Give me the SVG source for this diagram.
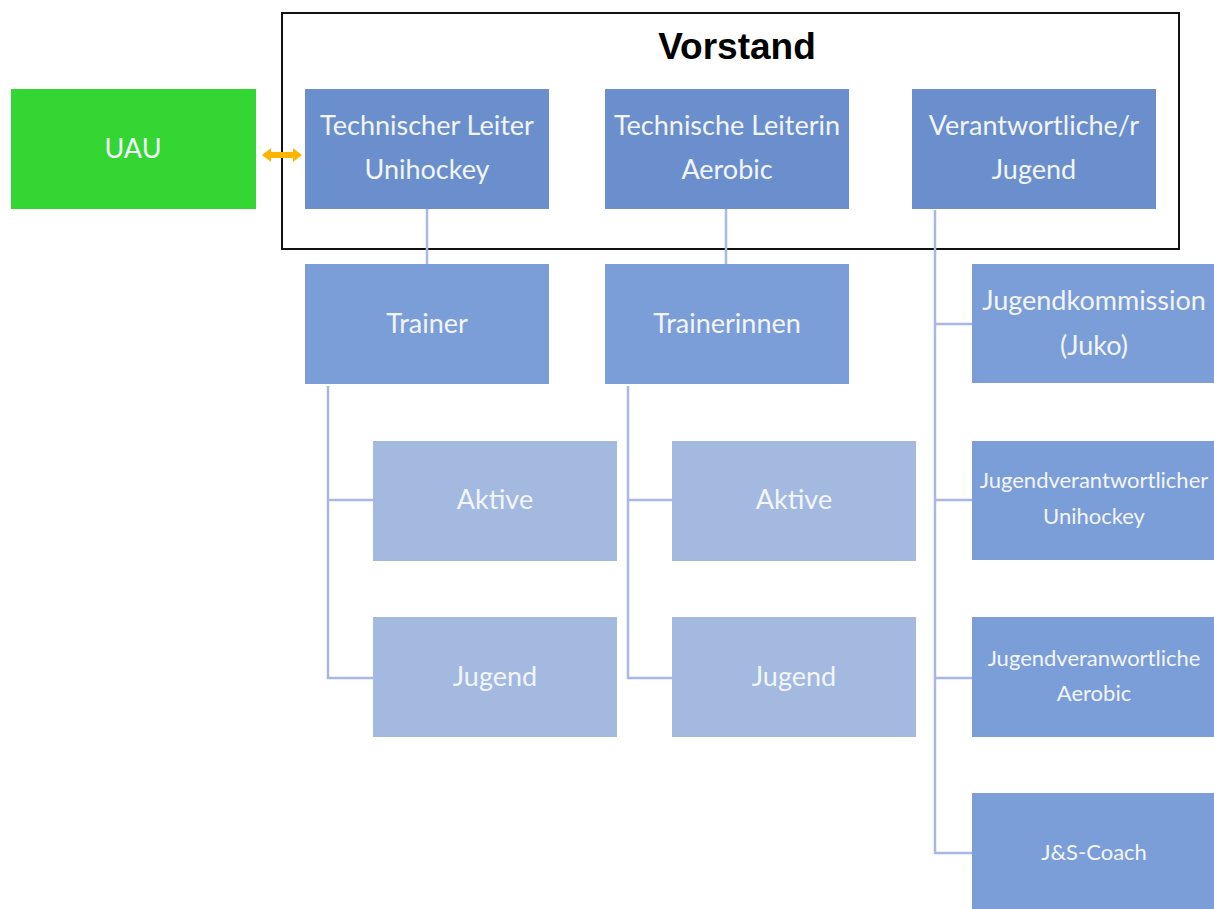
<svg xmlns="http://www.w3.org/2000/svg" width="1214" height="909" viewBox="0 0 1214 909">
<defs>
<style>
.t{font-family:Lato,"Open Sans",sans-serif;fill:#f2f5fb;text-anchor:middle}
.l{font-size:27px}
.s{font-size:22px}
.d{fill:#6a8fcc}
.m{fill:#7b9ed8}
.p{fill:#a3b9e0}
.c{stroke:#a9b8e2;stroke-width:2.5;fill:none}
</style>
</defs>
<rect width="1214" height="909" fill="#fff"/>
<g id="vorstand">
<rect x="282" y="13" width="897" height="236" fill="none" stroke="#111" stroke-width="2"/>
<text x="737" y="59" font-family="'Liberation Sans',Arial,sans-serif" font-weight="bold" font-size="37" text-anchor="middle" fill="#000">Vorstand</text>
</g>
<g id="connectors">
<path class="c" d="M427,209V264M726,209V264"/>
<path class="c" d="M328,386V678H373M328,500H373"/>
<path class="c" d="M628,386V678H672M628,500H672"/>
<path class="c" d="M935,210V853H972M935,324H972M935,500H972M935,678H972"/>
<polygon points="262,155 271,148 271,152 293,152 293,148 302,155 293,162 293,158 271,158 271,162" fill="#ffb400"/>
</g>
<g id="uau"><rect x="11" y="89" width="245" height="120" fill="#33d633"/><text class="t l" x="133" y="158">UAU</text></g>
<g id="tl-unihockey"><rect class="d" x="305" y="89" width="244" height="120"/><text class="t l" x="427" y="135">Technischer Leiter</text><text class="t l" x="427" y="179">Unihockey</text></g>
<g id="tl-aerobic"><rect class="d" x="605" y="89" width="244" height="120"/><text class="t l" x="727" y="135">Technische Leiterin</text><text class="t l" x="727" y="179">Aerobic</text></g>
<g id="v-jugend"><rect class="d" x="912" y="89" width="244" height="120"/><text class="t l" x="1034" y="135">Verantwortliche/r</text><text class="t l" x="1034" y="179">Jugend</text></g>
<g id="trainer"><rect class="m" x="305" y="264" width="244" height="120"/><text class="t l" x="427" y="333">Trainer</text></g>
<g id="trainerinnen"><rect class="m" x="605" y="264" width="244" height="120"/><text class="t l" x="727" y="333">Trainerinnen</text></g>
<g id="aktive-u"><rect class="p" x="373" y="441" width="244" height="120"/><text class="t l" x="495" y="509">Aktive</text></g>
<g id="jugend-u"><rect class="p" x="373" y="617" width="244" height="120"/><text class="t l" x="495" y="686">Jugend</text></g>
<g id="aktive-a"><rect class="p" x="672" y="441" width="244" height="120"/><text class="t l" x="794" y="509">Aktive</text></g>
<g id="jugend-a"><rect class="p" x="672" y="617" width="244" height="120"/><text class="t l" x="794" y="686">Jugend</text></g>
<g id="juko"><rect class="m" x="972" y="264" width="244" height="119"/><text class="t l" x="1094" y="310">Jugendkommission</text><text class="t l" x="1094" y="355">(Juko)</text></g>
<g id="jv-unihockey"><rect class="m" x="972" y="441" width="244" height="119"/><text class="t s" x="1094" y="488">Jugendverantwortlicher</text><text class="t s" x="1094" y="524">Unihockey</text></g>
<g id="jv-aerobic"><rect class="m" x="972" y="617" width="244" height="120"/><text class="t s" x="1094" y="666">Jugendveranwortliche</text><text class="t s" x="1094" y="701">Aerobic</text></g>
<g id="js-coach"><rect class="m" x="972" y="793" width="244" height="120"/><text class="t s" x="1094" y="860">J&amp;S-Coach</text></g>
</svg>
